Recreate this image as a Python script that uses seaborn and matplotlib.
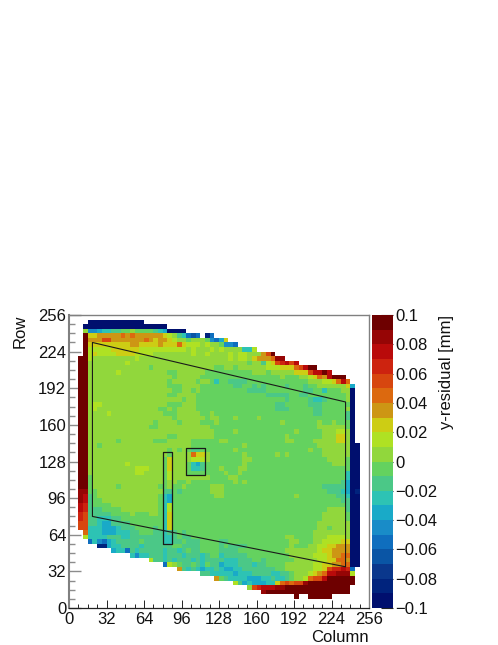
import numpy as np
import matplotlib
matplotlib.use("Agg")
import matplotlib.pyplot as plt
from matplotlib.colors import ListedColormap
import seaborn as sns

# Residual level per cell (each cell = 4 columns x 4 rows), top row first.
# a..t = the 20 colour bands from -0.1 to 0.1, '.' = empty; groups of 8 cells.
ROWS_TOP = [
    "",
    "....aaaa aaaaaaaa",
    "...aaaaa aaaaaaaa aaaaa",
    "...kffgh hiijjkjj jjihgaaa a",
    "...tmmnn nnnononn nnnnmlki hede.be",
    "...tnnnp pnnnnnnn onmnnmlk kjkkkjfe gm",
    "...tmmmm mmmmmnnm mmmnmmmo mlllklkk jffe",
    "...tllll lmmmmmml llllllll lklkkklk lkkkkhhl",
    "...tlmll llmmmmll llkkkkkk kklkklkk kklkllkk knpt",
    "..ttlkkk kkkkkklk kkkkkkkk kkkkkkkk kklkllkm nnnoss",
    "..ttkkkk kkkklkkk kkkkkkkk kkkkkkkk kkkkkkjk kilmpqrp r",
    "..ttkkkk kkkkkkkk kjkkkkkk kkkkkkkj jkkjkkkk kklllmmm oprtt",
    "..ttkkkk kklkkkkk kkkkkjjk kkkkkjjj jjjjjjjk kkjkkkkk mmmprrtr",
    "..ttkkkk kkkkkkkk kkkkkkjk kkkkjjjj jjjjjjjj jjjjjkjj jkklmonr ttt",
    "..ttkkkk kkkkkkkk kkkkkjkk kkkjkkjh jjiiiijj jjjjjjjj jjjkkkll moro",
    "..ttkkkk kkkkkkkk kkkkkjjj kkkkjjjj jjjiijji jijjjjij jjijjkkk kkkmg",
]
ROWS_UPPER = [
    "..ttkkkk kkkkkkkk kkkkkkjj kkjkjjjj jjjjjjii iijjjjjj jjiijjhj jjkka",
    "..ttkkkk kkkkkkkk kkkkkjjk kkkjjjjj jjjjjjjj jjiiiiij jiijjjjj jjjka",
    "..ttkkkk kkkkkkkk kkkkkkkk jkkjjjjj jjjjjjjj jjjjjjij jjjihhij jjjka",
    "..ttkllk kkkkkkkk kkkkkjjj kkkjjjjj jjjjjjjj jjjjiijj jjjiiijj jjjja",
    "..ttklkk kkkkkkkk kkkjjkjk kkkjjjjj jjjjjjjj jjjjiiij jjjjiijj jjjka",
    "..ttkkkk lkkkkkkk kkkkjjjk kkkkjjkj jjjjjjjj jjjjjjjj jjjjiijj jjjia",
    "..ttkkkk kkkkkkkk kkkkkkjk kkkkkjkk jjjkjjjj kjjjjjjj jjjjjjjj jjjia",
    "..ttkkkk kkkkkkkk kkjkkkkj kkkkjjjk jjjjjjjj jjjjjkjj jjjjjkjj kjjja",
    "..ttkkkk kkkkkkkk kjjkkkkk kkkkkkjj jjjjjjjj jjjjjjjj jjjjjkkk kkkja",
    "..ttkkkk kkkkkkkk kkkkkkkk kkkkkkkj jjjkjjjj jjjjjjjj kjjjjjkk kllka",
    "..ttkkkk kkkkkkkk kkkkkjjk kkkkkkkj jjjjjjjj jjjjjjkj jjjjjjkk kmmka",
    "..ttkkkk kkjkkkkk kkjjjkkk kkjjjjjj kkjjjjjj jjjjjjkk jjjjkkkk kmmka",
    "..ttkkjk kkkkkkkk kkkkkkkk kkjjjjjj jjjjjkjj jjjjjjjj jjjjjkkk kkkkaa",
    "..ttkkkk kkkkkkkk kkkkkjkj kjiijjjj jjjkjjjj jjjjjjjj jjjkjjkk kkkkaa",
    "..ttkkkk kkkkkkkk kkkkkjkk kkommkjj jjjjjkjj jjjjkjkj jjjjjjkk kkkkaa",
    "..ttkkkk kkkkkkkk kkkkjmkk kklllkjj jjjjjkkj jjjjjjjj jjjjjjjk kkkjaa",
]
ROWS_MIDDLE = [
    "..ttkkkk kkkklkkk kkkkjmkk kjhgijjj jjjjjkjj jjjjjjjj jjjjjjjj kkkjaa",
    "..ttkkkk kkkkkkll lkkkjmkk kjhhijjj kjjjkkjj jjjjjjjj jjjjjjjj jjjjaa",
    "..ttkkkk kkkkkkll kkkkjlkk kjjjjjjj jkjjkjjj jjjjjjjj jjjjjjjj jjjhaa",
    "..ttjkkk kkkkkkkk kkkkjlkk kkkkkkjj jjkkjjjj jjjjjjjj jjjjjjjj jjjhaa",
    "..ttjkkk kkkkkkkk kkkkjkkj jkjjjjjj jjjkjkjj jjjjjjjj jjjjjjjj jjigaa",
    "..ttjkkk kkjkkkkk kkkjjkjj kjjjjjkk kjjjjjjj jjjjjjjj jjjjjjii iiigaa",
    "..ssjjkk kkkkkkkk kkkkiiji jjjjjjkk kjjjjjjj jjjjjjjj jjjjjjji iihgab",
    "..srijkk kkkkkkkk kkkjhgjj jjjjjjjk kjjjjjjj jjjjjjjj kjjjjjjj jiihaa",
    "..srijjk kkkkkkkk kkkjhgjj jjjjjjjj jjjjjjjj jjjjjjjj jjjjjjjj jjiiaa",
    "..rqijjj jkkkkkkk kkkjhljj jjjjjjjj jjjjjjjj jjjjjjjj jjjjjjjj jjjiaa",
    "..rqiiij jjjkkkkk kkkjhljj jjjjjjjj jjjjjjjj jjjjjjjj jjjjjjjk kkkiaa",
    "..qpiiii ijjjjkjj jkkjhmjj jjjjjjjj jjjjjjjj jjjjjjjj jjjjjjkk kkkjaa",
    "..qpiihh hiijjjjj jjjjhmjj jjjjjjjj jjjjjjjj jjjjjjjj jjjjjjkk kkkjaa",
    "..ppiihg giiiijjj jjjjhmjj jjjjjjjj jjjjjjjj jjjjjjjj jjjjjkkk kkkkaa",
    "..pphhhg gghiiijj jjijhmjj jjjjjjjj jjjjjjjj jjjjjjjj jjjjjkkj kkkkaa",
    "...ohhhg gghhhiij jjiihiij ijjjjjjj jjjjjjjj jjjjjjjj jjjjkkkk kkkkaa",
]
ROWS_LOWER = [
    "...lhhhh iiihhiii iiiihhij iijjjjjj jjjjjjjj jjjjjjkk jjjjkkkl lllkaa",
    "....ehfe ghiiiiij iiiihhii jiiijjjj iijjjjjj jjjjjjjk kjjjkkll llmmaa",
    "......bb ghhiiiih iiiiiijj iiiijjjj ijiiiijj jjjjjjjk jjjkkllm mnnnaa",
    "........ .ghheihi iiiihiih ijiijjjj iiiijjjj jjjjjjkk kkkkklmm nnnnaa",
    "........ .....hfh hiiihiii hiiihijj hiiiiijj jjjjjjjk kkkklllm nnooaa",
    "........ ........ .liihihi iihihiii ihhhiiij jijjjjjj kkkkkllm moonaa",
    "........ ........ ....elkj iijihjii ghhhiiih iijjjjkk kkkkllmm nnooaa",
    "........ ........ .......n ihihghhi hgghhiii iiiijjkk kkkkllmp qqrqe",
    "........ ........ ........ ....iihh hhhghhhi iiihhiij kkklmnor rsssl",
    "........ ........ ........ .......n jihhhhgg ghhihhij kklopprt ttttt",
    "........ ........ ........ ........ ...lighg gghhmopo ppsttttt ttttt",
    "........ ........ ........ ........ ......kp qrrrsstt tttttttt tttt",
    "........ ........ ........ ........ ........ .stttttt tttttttt tttt",
    "........ ........ ........ ........ ........ ........ t..ttttt",
    "",
    "",
]
LEVEL_CODES = "abcdefghijklmnopqrst"
BAND_COLORS = [
    (0, 15, 110), (0, 35, 125), (10, 55, 140), (10, 85, 165), (15, 110, 190),
    (25, 140, 200), (25, 170, 200), (45, 195, 180), (75, 200, 135), (100, 210, 95),
    (145, 215, 60), (175, 225, 35), (205, 205, 20), (205, 150, 20), (220, 105, 15),
    (215, 70, 15), (205, 35, 15), (185, 10, 10), (150, 5, 5), (110, 0, 0),
]
AXIS_TICKS = [0, 32, 64, 96, 128, 160, 192, 224, 256]
MINOR_TICKS = list(range(8, 256, 8))
CBAR_TICKS = [-0.1, -0.08, -0.06, -0.04, -0.02, 0, 0.02, 0.04, 0.06, 0.08, 0.1]
CBAR_LABELS = ["\u22120.1", "\u22120.08", "\u22120.06", "\u22120.04", "\u22120.02", "0",
               "0.02", "0.04", "0.06", "0.08", "0.1"]
OUTLINE_COL = [20, 236, 236, 20, 20]
OUTLINE_ROW = [232, 180, 36, 80, 232]
BOX_A_COL = [80, 88, 88, 80, 80]
BOX_A_ROW = [56, 56, 136, 136, 56]
BOX_B_COL = [100, 116, 116, 100, 100]
BOX_B_ROW = [116, 116, 140, 140, 116]

sns.set_theme(style="white")
plt.rcParams["font.family"] = ["Liberation Sans", "DejaVu Sans"]
plt.rcParams["font.size"] = 12

rows = [r.replace(" ", "") for r in ROWS_TOP + ROWS_UPPER + ROWS_MIDDLE + ROWS_LOWER]
bad = [(i, len(r)) for i, r in enumerate(rows) if len(r) > 64]
assert len(rows) == 64 and not bad, (len(rows), bad)
grid = np.full((64, 64), np.nan)
for i, r in enumerate(rows):
    for j, ch in enumerate(r):
        if ch != ".":
            grid[63 - i, j] = -0.1 + 0.01 * (LEVEL_CODES.index(ch) + 0.5)

W, H = 498, 645
fig = plt.figure(figsize=(W / 100, H / 100), dpi=100, facecolor="white")
ax = fig.add_axes([69 / W, 1 - 608 / H, 300 / W, 293 / H])
cax = fig.add_axes([371.5 / W, 1 - 608 / H, 21 / W, 293 / H])
cmap = ListedColormap([tuple(v / 255 for v in c) for c in BAND_COLORS])
sns.heatmap(grid, ax=ax, cbar_ax=cax, cmap=cmap, vmin=-0.1, vmax=0.1,
            square=False, xticklabels=False, yticklabels=False,
            cbar_kws={"ticks": CBAR_TICKS, "drawedges": False})
ax.set_xlim(0, 64)
ax.set_ylim(0, 64)

ax.plot(np.array(OUTLINE_COL) / 4, np.array(OUTLINE_ROW) / 4, color="#1a1a1a", lw=0.8)
ax.plot(np.array(BOX_A_COL) / 4, np.array(BOX_A_ROW) / 4, color="#1a1a1a", lw=0.9)
ax.plot(np.array(BOX_B_COL) / 4, np.array(BOX_B_ROW) / 4, color="#1a1a1a", lw=0.9)

ax.set_xticks([v / 4 for v in AXIS_TICKS])
ax.set_xticklabels([str(v) for v in AXIS_TICKS])
ax.set_yticks([v / 4 for v in AXIS_TICKS])
ax.set_yticklabels([str(v) for v in AXIS_TICKS], rotation=0)
ax.set_xticks([v / 4 for v in MINOR_TICKS if v % 32], minor=True)
ax.set_yticks([v / 4 for v in MINOR_TICKS if v % 32], minor=True)
ax.tick_params(axis="x", which="major", direction="in", length=6, width=0.7, color="#222222",
               labelsize=12, pad=3, labelcolor="#111111", top=False, bottom=True)
ax.tick_params(axis="x", which="minor", direction="in", length=3, width=0.7, color="#222222",
               top=False, bottom=True)
ax.tick_params(axis="y", which="major", direction="in", length=8.5, width=1.0, color="#8c8c8c",
               labelsize=12, pad=2, labelcolor="#111111", left=True, right=False)
ax.tick_params(axis="y", which="minor", direction="in", length=4.2, width=1.0, color="#8c8c8c",
               left=True, right=False)

for side, col, lw in [("left", "#808080", 1.5), ("bottom", "#222222", 0.9),
                      ("top", "#808080", 1.0), ("right", "#808080", 1.0)]:
    ax.spines[side].set_visible(True)
    ax.spines[side].set_color(col)
    ax.spines[side].set_linewidth(lw)

ax.set_xlabel("Column", loc="right", fontsize=12, color="#111111")
ax.xaxis.set_label_coords(1.0, -(630 - 608) / 293)
ax.set_ylabel("Row", loc="top", fontsize=12, color="#111111")
ax.yaxis.set_label_coords(-(69 - 28) / 300, 1.0)

cax.set_yticks(CBAR_TICKS)
cax.set_yticklabels(CBAR_LABELS)
cax.tick_params(axis="y", which="major", direction="in", length=8.5, width=0.8, color="#222222",
                labelsize=12, pad=2, labelcolor="#111111", right=True, left=False)
cax.minorticks_off()
fig.text(446 / W, 1 - 315 / H, "y-residual [mm]", rotation=90, ha="center", va="top",
         fontsize=12, color="#111111")

fig.savefig("out.png", dpi=100, facecolor="white")
